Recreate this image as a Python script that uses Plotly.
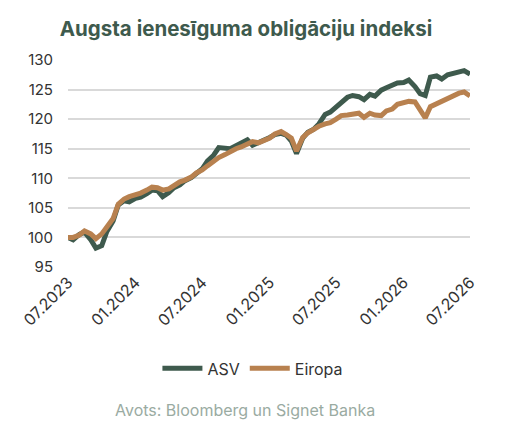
import pandas as pd
import plotly.graph_objects as go

# semi-monthly observations, 07.2023 - 07.2026
dates = pd.date_range("2023-07-01", "2026-07-01", freq="SMS")

asv = [100.0, 99.6, 100.5, 100.9, 99.6, 98.2, 98.6, 101.0, 102.8, 105.5,
       106.2, 106.0, 106.6, 106.8, 107.4, 108.0, 107.9, 106.9, 107.6, 108.4,
       108.9, 109.6, 110.1, 110.8, 111.6, 112.9, 113.9, 115.2, 115.0, 115.0,
       115.5, 116.0, 116.5, 115.6, 116.0, 116.5, 116.9, 117.4, 117.6, 117.3,
       116.3, 114.2, 116.8, 117.8, 118.3, 119.2, 120.8, 121.2, 122.0, 122.8,
       123.7, 124.0, 123.8, 123.3, 124.2, 123.9, 124.9, 125.3, 125.7, 126.1,
       126.2, 126.6, 125.5, 124.3, 124.0, 127.1, 127.3, 126.8, 127.5, 127.7,
       128.0, 128.2, 127.6]

eiropa = [100.0, 100.0, 100.4, 101.1, 100.6, 99.8, 100.6, 101.9, 103.2, 105.6,
          106.5, 106.9, 107.2, 107.5, 108.0, 108.5, 108.4, 108.0, 108.2, 108.8,
          109.4, 109.7, 110.2, 110.9, 111.4, 112.1, 112.9, 113.5, 114.0, 114.5,
          115.0, 115.3, 115.8, 116.2, 116.0, 116.4, 116.8, 117.5, 117.9, 117.4,
          116.8, 114.6, 116.9, 117.7, 118.3, 118.8, 119.2, 119.4, 120.0, 120.6,
          120.7, 120.9, 121.0, 120.3, 121.0, 120.7, 120.6, 121.4, 121.7, 122.5,
          122.8, 123.0, 122.9, 121.4, 120.2, 122.1, 122.6, 122.9, 123.6, 124.0,
          124.4, 124.6, 123.9]

tick_dates = ["2023-07-01", "2024-01-01", "2024-07-01", "2025-01-01",
              "2025-07-01", "2026-01-01", "2026-07-01"]
tick_text = ["07.2023", "01.2024", "07.2024", "01.2025",
             "07.2025", "01.2026", "07.2026"]

font = "Inter, Open Sans, sans-serif"

fig = go.Figure()
fig.add_trace(go.Scatter(x=dates, y=asv, name="ASV", mode="lines",
                         line=dict(color="#3e5a4d", width=5)))
fig.add_trace(go.Scatter(x=dates, y=eiropa, name="Eiropa", mode="lines",
                         line=dict(color="#b8814f", width=5)))

# page body adds an 8px margin, so the figure is 8px smaller than the window
fig.update_layout(
    width=500, height=422,
    margin=dict(l=60, r=38, t=52, b=163, autoexpand=False),
    paper_bgcolor="white", plot_bgcolor="white",
    font=dict(family=font, color="#333333", size=14),
    title=dict(text="<b>Augsta ienesīguma obligāciju indeksi</b>",
               x=0.476, xanchor="center", y=0.951, yanchor="middle",
               font=dict(size=20.5, color="#3e5a4d", family=font)),
    showlegend=True,
    legend=dict(orientation="h", x=0.46, xanchor="center", y=-0.49,
                yanchor="middle", font=dict(size=16, color="#333333"),
                itemwidth=40, tracegroupgap=0),
    annotations=[dict(text="Avots: Bloomberg un Signet Banka", xref="paper",
                      yref="paper", x=0.44, y=-0.69, xanchor="center",
                      yanchor="middle", showarrow=False,
                      font=dict(size=16, color="#9aaba2", family=font))],
)
fig.update_xaxes(range=[pd.Timestamp("2023-07-01"), pd.Timestamp("2026-07-01")],
                 tickvals=tick_dates, ticktext=tick_text, tickangle=-45,
                 showgrid=False, showline=False, zeroline=False,
                 automargin=False, ticklabelstandoff=2,
                 tickfont=dict(size=16, color="#333333"))
fig.update_yaxes(range=[95, 130], dtick=5, showgrid=True, gridcolor="#d9d9d9",
                 gridwidth=1.5, zeroline=False, showline=False,
                 ticks="", ticklabelstandoff=14, automargin=False,
                 tickfont=dict(size=15, color="#333333"))

fig.write_html("out.html")
